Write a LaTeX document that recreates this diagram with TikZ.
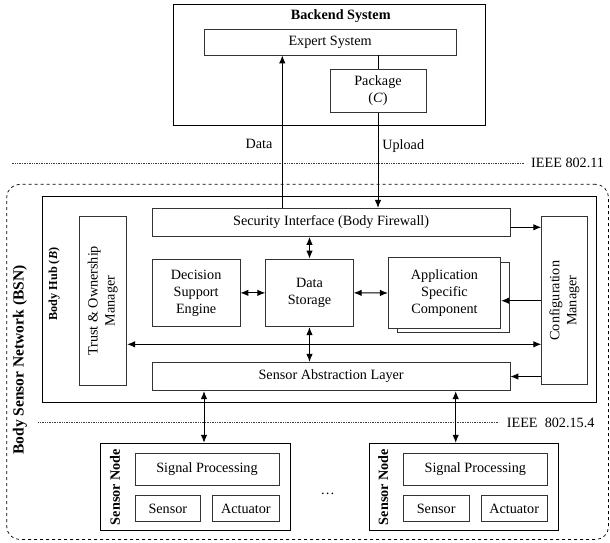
\documentclass[tikz,border=0pt]{standalone}
\usepackage{fontspec}
\setmainfont{Liberation Serif}
\usepackage{tikz}
\usetikzlibrary{arrows, arrows.meta, positioning}

\newcommand{\mainsz}{\fontsize{14.2}{17}\selectfont}
\newcommand{\hubsz}{\fontsize{12.2}{14}\selectfont}

\tikzset{
	blk/.style={draw=black!80, line width=0.8pt, inner sep=1pt, align=center, font=\mainsz},
	frame/.style={draw, line width=1pt, inner sep=0pt},
	lbl/.style={inner sep=0pt, font=\mainsz},
	ttl/.style={inner sep=0pt, font=\mainsz\bfseries},
	link/.style={line width=1pt},
	lane/.style={densely dotted, line width=0.7pt, black!75},
	bsnframe/.style={draw, dashed, line width=0.7pt, rounded corners=13pt, inner sep=0pt}
}

\begin{document}
\begin{tikzpicture}[x=1pt, y=-1pt, >={Latex[length=8pt,width=6.5pt]}]
		%\draw [thin, help lines] (0,0) grid[step=10] (610,542);
		\useasboundingbox (0,0) rectangle (610,542);
		% backend
		\node[frame, minimum width=311.7, minimum height=121.3] (backend) at (329.15,64.65) {};
		\node[ttl] (backendlbl) at (340.7,16) {Backend System};
		\node[blk, minimum width=251.7, minimum height=25.7] (expert) at (330.15,42.15) {Expert System};
		\node[blk, minimum width=96, minimum height=43] (package) at (378,90.8) {Package\\(\textit{C})};
		\node[lbl] (datalbl) at (259,144.3) {Data};
		\node[lbl] (uploadlbl) at (403.2,146) {Upload};
		% wireless levels
		\node[lbl, anchor=west] (wifi) at (531,163.3) {IEEE 802.11};
		\coordinate (wifistart) at (11.7,163.3);
		\draw[lane] (wifistart) -- ([xshift=-7pt]wifi.west);
		\node[lbl, anchor=west] (zigbee) at (506.7,422.7) {IEEE~~802.15.4};
		\coordinate (zigbeestart) at (38.3,422.7);
		\draw[lane] (zigbeestart) -- ([xshift=-7.7pt]zigbee.west);
		% body sensor network
		\node[bsnframe, minimum width=601.8, minimum height=355.2] (bsn) at (307.6,361.9) {};
		\node[ttl, rotate=90, font=\fontsize{15.5}{18}\selectfont\bfseries] (bsnlbl) at (20,360) {Body Sensor Network (BSN)};
		\node[frame, minimum width=553.3, minimum height=205.3] (hub) at (319.35,299.35) {};
		\node[ttl, rotate=90, font=\hubsz\bfseries] (hublbl) at (54.3,284) {Body Hub (\textit{B})};
		\node[blk, minimum width=357.7, minimum height=28.2] (security) at (331.15,222.4) {Security Interface (Body Firewall)};
		\node[blk, minimum width=357.7, minimum height=28.4] (sal) at (331.15,376.5) {Sensor Abstraction Layer};
		\node[blk, rotate=90, minimum width=168.3, minimum height=47.7] (trust) at (102.85,300.85) {Trust \& Ownership\\Manager};
		\node[blk, rotate=90, minimum width=168, minimum height=45.6] (config) at (564.5,300.7) {Configuration\\Manager};
		\node[blk, minimum width=87.7, minimum height=67.7] (decision) at (196.15,292.85) {Decision\\Support\\Engine};
		\node[blk, minimum width=87.6, minimum height=67.7] (storage) at (309.5,292.85) {Data\\Storage};
		\node[blk, minimum width=112.4, minimum height=70.6] (appshadow) at (453.2,297.4) {};
		\node[blk, fill=white, minimum width=112.4, minimum height=70.6] (app) at (444.5,293) {Application\\Specific\\Component};
		% sensor nodes
		\foreach \i/\dx in {1/0, 2/268.3} {
			\node[frame, minimum width=189.3, minimum height=87.4] (sn\i) at (195.35+\dx,487) {};
			\node[ttl, rotate=90] (snlbl\i) at (115+\dx,487) {Sensor Node};
			\node[blk, minimum width=144, minimum height=32.4] (sp\i) at (207+\dx,469.5) {Signal Processing};
			\node[blk, minimum width=65.7, minimum height=26.4] (sen\i) at (167.85+\dx,508.5) {Sensor};
			\node[blk, minimum width=66.3, minimum height=26.4] (act\i) at (245.85+\dx,508.5) {Actuator};
		}
		\node[lbl] (dots) at (327.7,494) {\dots};
		% connectors
		\coordinate (datax) at (282.3,0);
		\coordinate (bus) at (0,344.3);
		\coordinate (lane1) at (204,0);
		\coordinate (lane2) at (455.7,0);
		\draw[->, link] (security.north -| datax) -- (expert.south -| datax);
		\draw[link] (expert.south -| package.north) -- (package.north);
		\draw[->, link] (package.south) -- (package.south |- security.north);
		\draw[->, link] ([yshift=-4.9pt]security.east) -- ([yshift=-4.9pt]security.east -| config.north);
		\draw[<->, link] (storage.north) -- (storage.north |- security.south);
		\draw[<->, link] (decision.east) -- (storage.west);
		\draw[<->, link] (storage.east) -- (app.west);
		\draw[->, link] (config.north) -- (config.north -| app.east);
		\draw[<->, link] (trust.south |- bus) -- (config.north |- bus);
		\draw[<->, link] (storage.south) -- (storage.south |- sal.north);
		\draw[->, link] (config.north |- sal.east) -- (sal.east);
		\draw[<->, link] (sal.south -| lane1) -- (sn1.north -| lane1);
		\draw[<->, link] (sal.south -| lane2) -- (sn2.north -| lane2);
	\end{tikzpicture}
\end{document}
